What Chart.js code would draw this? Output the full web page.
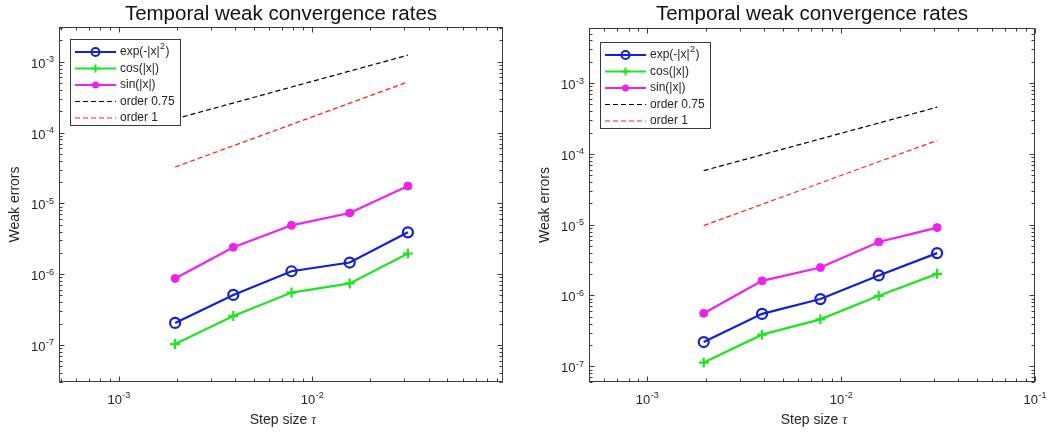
<!DOCTYPE html>
<html>
<head>
<meta charset="utf-8">
<script src="https://cdn.jsdelivr.net/npm/chart.js@4/dist/chart.umd.min.js"></script>
<style>
  html, body { margin: 0; padding: 0; background: #fff; }
  #wrap { position: relative; width: 1049px; height: 436px; overflow: hidden; }
  .panel { position: absolute; top: 0; height: 436px; }
</style>
</head>
<body>
<div id="wrap">
  <div class="panel" style="left:0;width:524px"><canvas id="leftPlot" width="524" height="436"></canvas></div>
  <div class="panel" style="left:524px;width:525px"><canvas id="rightPlot" width="525" height="436"></canvas></div>
</div>
<script>
// step sizes tau = 1/512 ... 1/32
const stepSizes = [1 / 512, 1 / 256, 1 / 128, 1 / 64, 1 / 32];
const refSteps = [1 / 512, 1 / 32];
const seriesNames = ["exp(-|x|^2)", "cos(|x|)", "sin(|x|)", "order 0.75", "order 1"];

// left panel
const leftExp = [2.05e-7, 5.1e-7, 1.1e-6, 1.46e-6, 3.9e-6];
const leftCos = [1.03e-7, 2.57e-7, 5.5e-7, 7.4e-7, 1.96e-6];
const leftSin = [8.7e-7, 2.4e-6, 4.9e-6, 7.3e-6, 1.76e-5];
const leftOrder075 = [1.56e-4, 1.24e-3];
const leftOrder1 = [3.26e-5, 5.2e-4];
const leftXDecades = [-3, -2];
const leftYDecades = [-7, -6, -5, -4, -3];

// right panel
const rightExp = [2.2e-7, 5.5e-7, 8.9e-7, 1.92e-6, 3.97e-6];
const rightCos = [1.13e-7, 2.8e-7, 4.6e-7, 9.9e-7, 2.02e-6];
const rightSin = [5.6e-7, 1.61e-6, 2.48e-6, 5.7e-6, 9.1e-6];
const rightOrder075 = [5.8e-5, 4.57e-4];
const rightOrder1 = [9.7e-6, 1.55e-4];
const rightXDecades = [-3, -2, -1];
const rightYDecades = [-7, -6, -5, -4, -3];

const TEXT = "#262626";
const SANS = '"Liberation Sans", Arial, Helvetica, sans-serif';
const styles = [
  { color: "#1020dc", marker: "ring", width: 2.2 },
  { color: "#1ee61e", marker: "plus", width: 2.2 },
  { color: "#f020f0", marker: "dot", width: 2.2 },
  { color: "#000000", marker: null, width: 1.2, dash: [5, 3] },
  { color: "#ff2020", marker: null, width: 1.2, dash: [5, 3] },
];

function pts(xs, ys) {
  return xs.map((x, i) => ({ x: x, y: ys[i] }));
}

function makeDatasets(exp, cos, sin, o75, o1) {
  const sets = [pts(stepSizes, exp), pts(stepSizes, cos), pts(stepSizes, sin), pts(refSteps, o75), pts(refSteps, o1)];
  return sets.map((data, i) => {
    const s = styles[i];
    const ds = {
      label: seriesNames[i],
      data: data,
      borderColor: s.color,
      borderWidth: s.width,
      fill: false,
      tension: 0,
      pointRadius: 0,
    };
    if (s.dash) ds.borderDash = s.dash;
    if (s.marker === "ring") {
      Object.assign(ds, { pointStyle: "circle", pointRadius: 5, pointBorderWidth: 2.2, pointBorderColor: s.color, pointBackgroundColor: "rgba(0,0,0,0)" });
    } else if (s.marker === "plus") {
      Object.assign(ds, { pointStyle: "cross", pointRadius: 5, pointBorderWidth: 2.2, pointBorderColor: s.color });
    } else if (s.marker === "dot") {
      Object.assign(ds, { pointStyle: "circle", pointRadius: 4, pointBorderWidth: 1, pointBorderColor: s.color, pointBackgroundColor: s.color });
    }
    return ds;
  });
}

function drawPow(ctx, e, x, y, align, bigY, smallY) {
  ctx.font = "13px " + SANS;
  const wb = ctx.measureText("10").width;
  ctx.font = "9px " + SANS;
  const expText = "-" + Math.abs(e);
  const we = ctx.measureText(expText).width;
  const total = wb + we + 0.5;
  const x0 = align === "center" ? x - total / 2 : x - total;
  ctx.textAlign = "left";
  ctx.textBaseline = "alphabetic";
  ctx.fillStyle = TEXT;
  ctx.font = "13px " + SANS;
  ctx.fillText("10", x0, bigY);
  ctx.font = "9px " + SANS;
  ctx.fillText(expText, x0 + wb + 0.5, smallY);
}

function drawMarker(ctx, marker, color, x, y) {
  ctx.save();
  ctx.strokeStyle = color;
  ctx.fillStyle = color;
  ctx.lineWidth = 2;
  ctx.setLineDash([]);
  if (marker === "ring") {
    ctx.beginPath();
    ctx.arc(x, y, 4, 0, Math.PI * 2);
    ctx.stroke();
  } else if (marker === "plus") {
    ctx.beginPath();
    ctx.moveTo(x - 4, y); ctx.lineTo(x + 4, y);
    ctx.moveTo(x, y - 4); ctx.lineTo(x, y + 4);
    ctx.stroke();
  } else if (marker === "dot") {
    ctx.beginPath();
    ctx.arc(x, y, 3.5, 0, Math.PI * 2);
    ctx.fill();
  }
  ctx.restore();
}

const matlabAxes = {
  id: "matlabAxes",
  afterDraw(chart, args, opts) {
    const ctx = chart.ctx;
    const a = chart.chartArea;
    const xs = chart.scales.x;
    const ys = chart.scales.y;
    ctx.save();

    // box
    ctx.strokeStyle = "#3a3a3a";
    ctx.lineWidth = 1;
    ctx.setLineDash([]);
    const L = Math.round(a.left) + 0.5, R = Math.round(a.right) - 0.5;
    const T = Math.round(a.top) + 0.5, B = Math.round(a.bottom) - 0.5;
    ctx.strokeRect(L, T, R - L, B - T);

    // ticks (major on decades, minor on 2..9)
    ctx.beginPath();
    const decadeRange = (scale) => {
      const out = [];
      const lo = Math.floor(Math.log10(scale.min));
      const hi = Math.ceil(Math.log10(scale.max));
      for (let e = lo; e <= hi; e++) {
        for (let m = 1; m < 10; m++) {
          const v = m * Math.pow(10, e);
          if (v >= scale.min * 0.999 && v <= scale.max * 1.001) out.push({ v: v, major: m === 1 });
        }
      }
      return out;
    };
    decadeRange(xs).forEach((t) => {
      const px = Math.round(xs.getPixelForValue(t.v)) + 0.5;
      const len = t.major ? 5 : 3;
      ctx.moveTo(px, B); ctx.lineTo(px, B - len);
      ctx.moveTo(px, T); ctx.lineTo(px, T + len);
    });
    decadeRange(ys).forEach((t) => {
      const py = Math.round(ys.getPixelForValue(t.v)) + 0.5;
      const len = t.major ? 5 : 3;
      ctx.moveTo(L, py); ctx.lineTo(L + len, py);
      ctx.moveTo(R, py); ctx.lineTo(R - len, py);
    });
    ctx.stroke();

    // tick labels
    opts.xDecades.forEach((e) => {
      const px = xs.getPixelForValue(Math.pow(10, e));
      drawPow(ctx, e, px, 0, "center", a.bottom + 22, a.bottom + 15.5);
    });
    opts.yDecades.forEach((e) => {
      const py = ys.getPixelForValue(Math.pow(10, e));
      drawPow(ctx, e, a.left - 5, py, "right", py + 6, py + 0.5);
    });

    // title
    const cx = (a.left + a.right) / 2;
    ctx.fillStyle = "#111";
    ctx.font = "20.5px " + SANS;
    ctx.textAlign = "center";
    ctx.textBaseline = "alphabetic";
    ctx.fillText(opts.title, cx, 19.5);

    // x label
    ctx.fillStyle = TEXT;
    ctx.font = "14px " + SANS;
    const part1 = "Step size ";
    const w1 = ctx.measureText(part1).width;
    ctx.font = 'italic 14px "Liberation Serif", "DejaVu Serif", serif';
    const w2 = ctx.measureText("\u03c4").width;
    const x0 = cx + 2 - (w1 + w2) / 2;
    ctx.textAlign = "left";
    ctx.font = "14px " + SANS;
    ctx.fillText(part1, x0, a.bottom + 42);
    ctx.font = 'italic 14px "Liberation Serif", "DejaVu Serif", serif';
    ctx.fillText("\u03c4", x0 + w1, a.bottom + 42);

    // y label
    ctx.save();
    ctx.translate(a.left - 44, (a.top + a.bottom) / 2);
    ctx.rotate(-Math.PI / 2);
    ctx.font = "14px " + SANS;
    ctx.textAlign = "center";
    ctx.textBaseline = "middle";
    ctx.fillText("Weak errors", 0, 0);
    ctx.restore();

    // legend
    const lg = opts.legend;
    const bx = a.left + lg.dx, by = a.top + lg.dy;
    const bw = 110, bh = 86, rowH = 16.5;
    ctx.fillStyle = "#fff";
    ctx.fillRect(bx, by, bw, bh);
    ctx.strokeStyle = "#3a3a3a";
    ctx.lineWidth = 1;
    ctx.strokeRect(Math.round(bx) + 0.5, Math.round(by) + 0.5, bw, bh);
    chart.data.datasets.forEach((ds, i) => {
      const s = styles[i];
      const ry = by + 13 + i * rowH;
      const lx0 = bx + 5, lx1 = bx + 46;
      ctx.save();
      ctx.strokeStyle = s.color;
      ctx.lineWidth = s.width;
      ctx.setLineDash(s.dash || []);
      ctx.beginPath();
      ctx.moveTo(lx0, ry); ctx.lineTo(lx1, ry);
      ctx.stroke();
      ctx.restore();
      if (s.marker) drawMarker(ctx, s.marker, s.color, (lx0 + lx1) / 2, ry);
      // label, with a superscript after '^'
      ctx.fillStyle = TEXT;
      ctx.textAlign = "left";
      ctx.textBaseline = "middle";
      ctx.font = "12px " + SANS;
      const tx = lx1 + 4;
      const parts = ds.label.split("^");
      if (parts.length === 2) {
        const base = parts[0];
        const sup = parts[1].charAt(0);
        const rest = parts[1].slice(1);
        ctx.fillText(base, tx, ry);
        let w = ctx.measureText(base).width;
        ctx.font = "9px " + SANS;
        ctx.fillText(sup, tx + w + 0.5, ry - 5);
        w += ctx.measureText(sup).width + 1;
        ctx.font = "12px " + SANS;
        ctx.fillText(rest, tx + w, ry);
      } else {
        ctx.fillText(ds.label, tx, ry);
      }
    });

    ctx.restore();
  },
};

function buildChart(id, datasets, xLim, yLim, padding, extra) {
  const ctx = document.getElementById(id).getContext("2d");
  return new Chart(ctx, {
    type: "line",
    data: { datasets: datasets },
    options: {
      responsive: false,
      animation: false,
      devicePixelRatio: 1,
      layout: { padding: padding },
      scales: {
        x: { type: "logarithmic", min: xLim[0], max: xLim[1], display: false },
        y: { type: "logarithmic", min: yLim[0], max: yLim[1], display: false },
      },
      plugins: {
        legend: { display: false },
        tooltip: { enabled: false },
        matlabAxes: extra,
      },
    },
    plugins: [matlabAxes],
  });
}

buildChart(
  "leftPlot",
  makeDatasets(leftExp, leftCos, leftSin, leftOrder075, leftOrder1),
  [4.9e-4, 0.097],
  [3.1e-8, 3.1e-3],
  { left: 59, top: 27, right: 21, bottom: 54 },
  { title: "Temporal weak convergence rates", xDecades: leftXDecades, yDecades: leftYDecades, legend: { dx: 11, dy: 12 } }
);

buildChart(
  "rightPlot",
  makeDatasets(rightExp, rightCos, rightSin, rightOrder075, rightOrder1),
  [5e-4, 0.1],
  [6e-8, 6e-3],
  { left: 65, top: 28, right: 14, bottom: 54 },
  { title: "Temporal weak convergence rates", xDecades: rightXDecades, yDecades: rightYDecades, legend: { dx: 11, dy: 14 } }
);
</script>
</body>
</html>
